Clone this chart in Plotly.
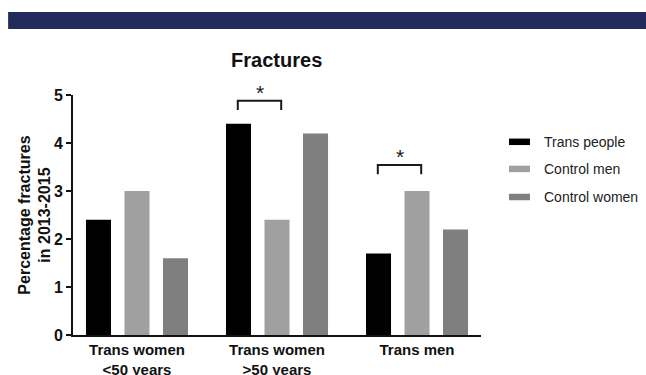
import plotly.graph_objects as go

# Data
categories = ["Trans women<br><50 years", "Trans women<br>>50 years", "Trans men"]
series_names = ["Trans people", "Control men", "Control women"]
trans_people = [2.4, 4.4, 1.7]
control_men = [3.0, 2.4, 3.0]
control_women = [1.6, 4.2, 2.2]
series_values = [trans_people, control_men, control_women]
series_colors = ["#000000", "#a0a0a0", "#7f7f7f"]
y_ticks = [0, 1, 2, 3, 4, 5]
Y_MAX = 5
y_title = "Percentage fractures<br>in 2013-2015"

# significance brackets: (category index, bracket top, leg bottom, star y)
sig_brackets = [(1, 4.88, 4.69, 5.05), (2, 3.54, 3.35, 3.71)]

FONT = "Liberation Sans, Arial, Helvetica, sans-serif"

fig = go.Figure()
for name, vals, col in zip(series_names, series_values, series_colors):
    fig.add_trace(go.Bar(x=list(range(len(categories))), y=vals, name=name,
                         marker=dict(color=col, line=dict(width=0)),
                         showlegend=False))

shapes = []
annotations = []

# Header band
shapes.append(dict(type="rect", xref="paper", yref="paper",
                   x0=-0.159, x1=1.41, y0=1.275, y1=1.346,
                   fillcolor="#232a5c", line=dict(width=0), layer="above"))

# Significance brackets
for idx, ytop, ybot, ystar in sig_brackets:
    x0 = idx - 0.28
    x1 = idx + 0.03
    shapes.append(dict(type="path", xref="x", yref="y",
                       path=f"M {x0},{ybot} L {x0},{ytop} L {x1},{ytop} L {x1},{ybot}",
                       line=dict(color="#1a1a1a", width=2)))
    annotations.append(dict(x=(x0 + x1) / 2, y=ystar / Y_MAX, xref="x", yref="paper",
                            text="*", showarrow=False, yanchor="middle",
                            font=dict(family=FONT, size=21, color="#1a1a1a")))

# Legend drawn as swatches with labels
legend_y = [0.805, 0.692, 0.575]
for name, col, ly in zip(series_names, series_colors, legend_y):
    shapes.append(dict(type="rect", xref="paper", yref="paper",
                       x0=1.0686, x1=1.120, y0=ly - 0.0135, y1=ly + 0.0135,
                       fillcolor=col, line=dict(width=0)))
    annotations.append(dict(x=1.150, y=ly, xref="paper", yref="paper",
                            text=name, showarrow=False, xanchor="left",
                            yanchor="middle",
                            font=dict(family=FONT, size=14, color="#222222")))

# Y-axis title, rotated
annotations.append(dict(x=-0.094, y=0.5, xref="paper", yref="paper",
                        text=y_title, textangle=-90, showarrow=False,
                        xanchor="center", yanchor="middle",
                        font=dict(family=FONT, size=16, color="#111111", weight="bold")))

fig.update_layout(
    width=646, height=375,
    margin=dict(l=73, r=165, t=95, b=40, autoexpand=False),
    paper_bgcolor="white", plot_bgcolor="white",
    barmode="group", bargap=0.175, bargroupgap=0.35,
    title=dict(text="Fractures", x=276.7 / 646,
               xanchor="center", y=1 - 60 / 375, yanchor="middle",
               font=dict(family=FONT, size=20, color="#111111", weight="bold")),
    shapes=shapes,
    annotations=annotations,
    font=dict(family=FONT, color="#111111"),
)

fig.update_xaxes(
    tickmode="array", tickvals=list(range(len(categories))), ticktext=categories,
    range=[-0.457, 2.457], showline=True, linecolor="#111111", linewidth=2,
    ticks="", showgrid=False, zeroline=False, automargin=False,
    tickfont=dict(family=FONT, size=15, color="#111111", weight="bold"),
)
fig.update_yaxes(
    range=[0, Y_MAX], tickvals=y_ticks, showline=True, linecolor="#111111",
    linewidth=2, ticks="outside", ticklen=5, tickwidth=2, tickcolor="#111111",
    showgrid=False, zeroline=False, automargin=False,
    tickfont=dict(family=FONT, size=16, color="#111111", weight="bold"),
)

fig.write_html("out.html")
